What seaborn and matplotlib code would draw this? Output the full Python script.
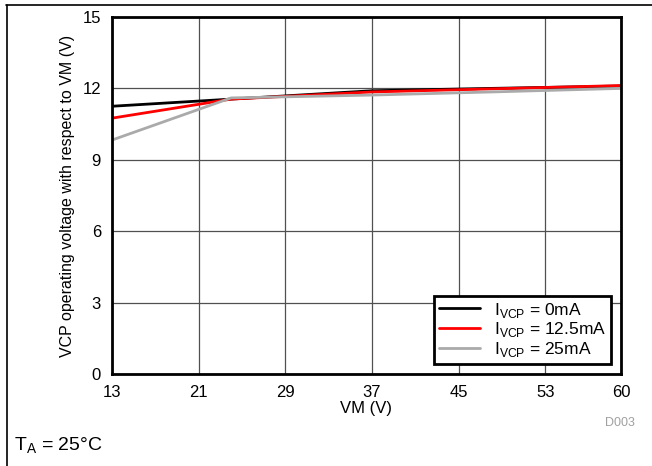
import pandas as pd
import numpy as np
import seaborn as sns
import matplotlib.pyplot as plt
from matplotlib.lines import Line2D

# Values
vm = [13, 24, 37, 48, 60]
vcp_0ma = [11.25, 11.55, 11.9, 12.0, 12.1]
vcp_12ma = [10.75, 11.55, 11.85, 11.98, 12.12]
vcp_25ma = [9.83, 11.6, 11.72, 11.85, 12.0]
labels = [r"I$_{\mathrm{VCP}}$ = 0mA", r"I$_{\mathrm{VCP}}$ = 12.5mA", r"I$_{\mathrm{VCP}}$ = 25mA"]
xticks = [13, 21, 29, 37, 45, 53, 60]
yticks = [0, 3, 6, 9, 12, 15]

df = pd.concat([
    pd.DataFrame({"VM": vm, "VCP": v, "series": lab})
    for v, lab in zip([vcp_0ma, vcp_12ma, vcp_25ma], labels)
])

sns.set_style("white")
plt.rcParams['font.family'] = ['Liberation Sans', 'DejaVu Sans']
plt.rcParams['mathtext.fontset'] = 'custom'
plt.rcParams['mathtext.rm'] = 'Liberation Sans'
plt.rcParams['text.color'] = 'black'
plt.rcParams['axes.labelcolor'] = 'black'
plt.rcParams['xtick.color'] = 'black'
plt.rcParams['ytick.color'] = 'black'

fig = plt.figure(figsize=(6.52, 4.66), dpi=100)
ax = fig.add_axes([112 / 652, 1 - 374 / 466, 509 / 652, 357 / 466])

palette = {labels[0]: "black", labels[1]: "#ff0000", labels[2]: "#aaaaaa"}
sns.lineplot(data=df, x="VM", y="VCP", hue="series", palette=palette,
             linewidth=2, ax=ax, legend=False)

ax.set_xlim(13, 60)
ax.set_ylim(0, 15)
ax.set_xticks(xticks)
ax.set_yticks(yticks)
ax.grid(True, color="#505050", linewidth=0.9)
ax.set_axisbelow(True)
for s in ax.spines.values():
    s.set_visible(True)
    s.set_color("black")
    s.set_linewidth(2)
ax.tick_params(axis="x", labelsize=12, length=0, pad=8)
ax.tick_params(axis="y", labelsize=12, length=0, pad=8)
ax.set_xlabel("VM (V)", fontsize=12, labelpad=1)
ax.set_ylabel("VCP operating voltage with respect to VM (V)", fontsize=11.5, labelpad=5)

handles = [Line2D([], [], color=palette[l], linewidth=2) for l in labels]
leg = ax.legend(handles, labels, loc="lower right", fontsize=12.5, frameon=True,
                fancybox=False, framealpha=1, edgecolor="black", borderpad=0.25,
                handlelength=2.4, handletextpad=0.8, labelspacing=0.05,
                borderaxespad=0.6)
leg.get_frame().set_linewidth(2)

# outer frame lines
fig.add_artist(Line2D([6 / 652, 1], [1 - 5 / 466] * 2, color="black", linewidth=1.2))
fig.add_artist(Line2D([7 / 652] * 2, [0, 1 - 5 / 466], color="black", linewidth=1.2))

fig.text(605 / 652, 1 - 423 / 466, "D003", fontsize=9, color="#a0a0a0", ha="left", va="center")
fig.text(14 / 652, 1 - 446 / 466, r"T$_{\mathrm{A}}$ = 25°C", fontsize=14, ha="left", va="center")

plt.savefig("out.png", dpi=100)
plt.close()
